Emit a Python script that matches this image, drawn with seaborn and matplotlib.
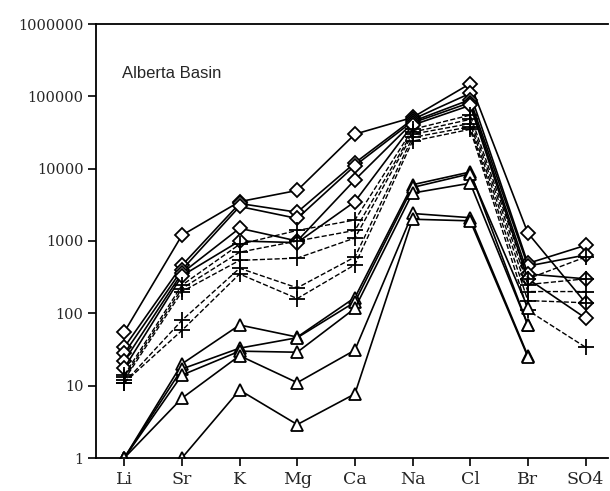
import numpy as np
import pandas as pd
import matplotlib
matplotlib.use("Agg")
import matplotlib.pyplot as plt
import seaborn as sns

elements = ["Li", "Sr", "K", "Mg", "Ca", "Na", "Cl", "Br", "SO4"]

# Diamond series (solid lines)
d1 = [55, 1200, 3500, 5000, 30000, 51000, 150000, 1290, 140]
d2 = [34, 460, 3300, 2500, 12000, 48000, 110000, 490, 870]
d3 = [28, 400, 3000, 2050, 11000, 45000, 90000, 450, 640]
d4 = [22, 360, 1500, 1000, 7000, 43000, 82000, 350, 300]
d5 = [17.5, 330, 1000, 950, 3500, 40000, 75000, 300, 86]

# Plus series (dashed lines)
p1 = [14, 245, 900, 1400, 1950, 35000, 55000, 300, 600]
p2 = [13, 220, 700, 1000, 1400, 32000, 48000, 250, 300]
p3 = [12, 200, 540, 580, 1100, 30000, 42000, 200, 200]
p4 = [11, 80, 420, 225, 600, 27000, 38000, 150, 140]
p5 = [11, 58, 350, 160, 470, 24000, 35000, 110, 34]

# Triangle series (solid lines)
t1 = [1, 20, 69, 47, 165, 6000, 9000, 69, np.nan]
t2 = [1, 17, 33, 46, 143, 5500, 8500, 120, np.nan]
t3 = [1, 14, 30, 29, 117, 4600, 6300, 69, np.nan]
t4 = [1, 6.7, 26, 11, 31, 2400, 2100, 26, np.nan]
t5 = [np.nan, 1, 8.7, 2.9, 7.7, 2000, 1900, 25, np.nan]

groups = {
    "diamond": [d1, d2, d3, d4, d5],
    "plus": [p1, p2, p3, p4, p5],
    "triangle": [t1, t2, t3, t4, t5],
}

rows = []
for g, series in groups.items():
    for i, s in enumerate(series):
        for j, v in enumerate(s):
            rows.append({"group": g, "sid": f"{g}{i}", "x": j, "value": v})
df = pd.DataFrame(rows).dropna()

sns.set_style("ticks")
fig = plt.figure(figsize=(6.10, 4.91), dpi=100)
ax = fig.add_axes([96/610, 33/491, 512/610, 434/491])

styles = {
    "diamond": dict(marker="D", markersize=7.5, linestyle="-", linewidth=1.2),
    "plus": dict(marker="+", markersize=12, linestyle="--", linewidth=1.0),
    "triangle": dict(marker="^", markersize=8, linestyle="-", linewidth=1.2),
}

for sid, sub in df.groupby("sid", sort=False):
    g = sub["group"].iloc[0]
    st = styles[g]
    sns.lineplot(data=sub, x="x", y="value", ax=ax, color="black",
                 marker=st["marker"], markersize=st["markersize"],
                 linestyle=st["linestyle"], linewidth=st["linewidth"],
                 markerfacecolor="white", markeredgecolor="black",
                 markeredgewidth=1.3, estimator=None, sort=False, legend=False)

ax.set_yscale("log")
ax.set_ylim(1, 1000000)
ax.set_xlim(-0.49, 8.39)
ax.set_xticks(range(len(elements)))
ax.set_xticklabels(elements, family="DejaVu Serif", fontsize=12.5)
yt = [1, 10, 100, 1000, 10000, 100000, 1000000]
ax.set_yticks(yt)
ax.set_yticklabels([str(v) for v in yt], family="DejaVu Serif", fontsize=10.5)
ax.yaxis.set_minor_locator(matplotlib.ticker.NullLocator())
ax.tick_params(axis="both", which="major", length=6, width=1.2, color="black",
               direction="out", pad=3)
ax.set_xlabel("")
ax.set_ylabel("")
for side in ["left", "bottom", "top"]:
    ax.spines[side].set_visible(True)
    ax.spines[side].set_linewidth(1.3)
    ax.spines[side].set_color("black")
ax.spines["right"].set_visible(False)

ax.text(0.05, 0.887, "Alberta Basin", transform=ax.transAxes,
        family="Liberation Sans", fontsize=12, va="center", ha="left")

fig.savefig("out.png", dpi=100)
